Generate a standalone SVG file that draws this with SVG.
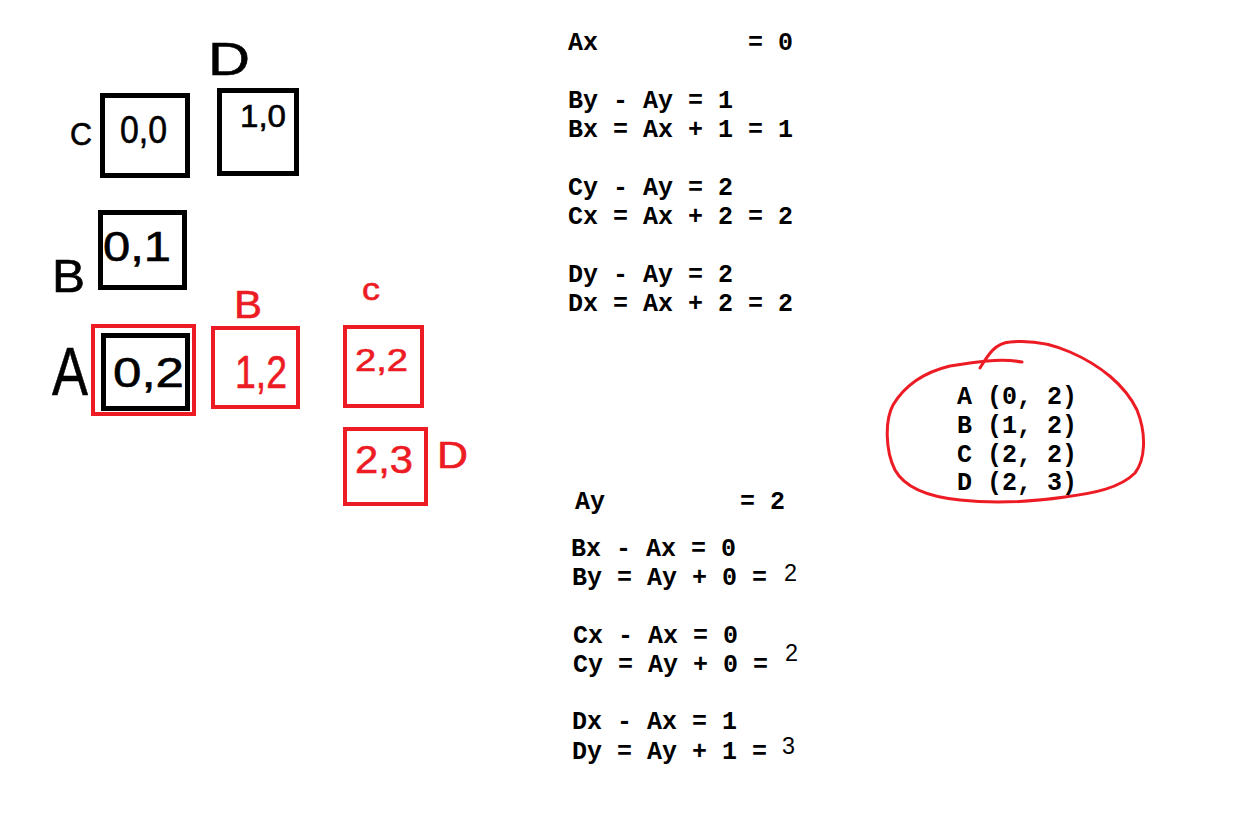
<svg xmlns="http://www.w3.org/2000/svg" width="1238" height="816" viewBox="0 0 1238 816">
<style>
.bg{fill:#fff}
.kbox{fill:none;stroke:#000;stroke-width:5}
.rbox{fill:none;stroke:#ED1C24;stroke-width:4}
.hk{font-family:"Liberation Sans","DejaVu Sans",sans-serif;fill:#000;stroke:#000;stroke-width:0.6}
.hr{font-family:"Liberation Sans","DejaVu Sans",sans-serif;fill:#ED1C24;stroke:#ED1C24;stroke-width:0.6}
.mono{font-family:"Liberation Mono","Courier New",monospace;font-weight:bold;font-size:25px;fill:#000}
.loop{fill:none;stroke:#ED1C24;stroke-width:3;stroke-linecap:round;stroke-linejoin:round}
</style>
<rect class="bg" x="0" y="0" width="1238" height="816"/>

<g id="connectors"></g>

<!-- black grid -->
<g id="node-00">
  <rect class="kbox" x="102.5" y="95.5" width="85" height="80"/>
  <text class="hk" x="120" y="143" font-size="39" textLength="47" lengthAdjust="spacingAndGlyphs">0,0</text>
</g>
<g id="node-10">
  <rect class="kbox" x="219.5" y="90.5" width="77" height="83"/>
  <text class="hk" x="240" y="127" font-size="31" textLength="46" lengthAdjust="spacingAndGlyphs">1,0</text>
</g>
<g id="node-01">
  <rect class="kbox" x="100.5" y="212.5" width="84" height="75"/>
  <text class="hk" x="103" y="261" font-size="42" textLength="68" lengthAdjust="spacingAndGlyphs">0,1</text>
</g>
<g id="node-02">
  <rect class="rbox" x="93" y="326" width="101" height="88"/>
  <rect class="kbox" x="103.5" y="335.5" width="84" height="73"/>
  <text class="hk" x="113" y="387" font-size="42" textLength="71" lengthAdjust="spacingAndGlyphs">0,2</text>
</g>

<!-- red grid -->
<g id="node-12">
  <rect class="rbox" x="213" y="328" width="85" height="79"/>
  <text class="hr" x="235" y="388" font-size="46" textLength="52" lengthAdjust="spacingAndGlyphs">1,2</text>
</g>
<g id="node-22">
  <rect class="rbox" x="345" y="327" width="77" height="79"/>
  <text class="hr" x="355" y="371" font-size="31" textLength="53" lengthAdjust="spacingAndGlyphs">2,2</text>
</g>
<g id="node-23">
  <rect class="rbox" x="345" y="429" width="81" height="75"/>
  <text class="hr" x="355" y="473" font-size="39" textLength="58" lengthAdjust="spacingAndGlyphs">2,3</text>
</g>

<!-- hand letters -->
<g id="labels">
  <text class="hk" x="208" y="75" font-size="46" textLength="42" lengthAdjust="spacingAndGlyphs">D</text>
  <text class="hk" x="70" y="145" font-size="32" textLength="22" lengthAdjust="spacingAndGlyphs">C</text>
  <text class="hk" x="52" y="292" font-size="47" textLength="33" lengthAdjust="spacingAndGlyphs">B</text>
  <text class="hk" x="52" y="395" font-size="68" textLength="36" lengthAdjust="spacingAndGlyphs">A</text>
  <text class="hr" x="234" y="318" font-size="39" textLength="28" lengthAdjust="spacingAndGlyphs">B</text>
  <text class="hr" x="362" y="300" font-size="32" textLength="18" lengthAdjust="spacingAndGlyphs">c</text>
  <text class="hr" x="437" y="468" font-size="36" textLength="31" lengthAdjust="spacingAndGlyphs">D</text>
</g>

<!-- equations block 1 -->
<g id="equations-x">
  <text class="mono" x="568" y="50">Ax</text>
  <text class="mono" x="748" y="50">= 0</text>
  <text class="mono" x="568" y="108">By - Ay = 1</text>
  <text class="mono" x="568" y="137">Bx = Ax + 1 = 1</text>
  <text class="mono" x="568" y="195">Cy - Ay = 2</text>
  <text class="mono" x="568" y="224">Cx = Ax + 2 = 2</text>
  <text class="mono" x="568" y="282">Dy - Ay = 2</text>
  <text class="mono" x="568" y="311">Dx = Ax + 2 = 2</text>
</g>

<!-- equations block 2 -->
<g id="equations-y">
  <text class="mono" x="575" y="509">Ay</text>
  <text class="mono" x="740" y="509">= 2</text>
  <text class="mono" x="571" y="556">Bx - Ax = 0</text>
  <text class="mono" x="572" y="585">By = Ay + 0 =</text>
  <text x="784" y="581" font-family="Liberation Sans, Arial, sans-serif" font-size="24" fill="#000" textLength="13" lengthAdjust="spacingAndGlyphs">2</text>
  <text class="mono" x="573" y="643">Cx - Ax = 0</text>
  <text class="mono" x="573" y="672">Cy = Ay + 0 =</text>
  <text x="785" y="661" font-family="Liberation Sans, Arial, sans-serif" font-size="24" fill="#000" textLength="13" lengthAdjust="spacingAndGlyphs">2</text>
  <text class="mono" x="572" y="729">Dx - Ax = 1</text>
  <text class="mono" x="572" y="759">Dy = Ay + 1 =</text>
  <text x="782" y="754" font-family="Liberation Sans, Arial, sans-serif" font-size="24" fill="#000" textLength="13" lengthAdjust="spacingAndGlyphs">3</text>
</g>

<!-- result list -->
<g id="result">
  <path class="loop" d="M 980,368 C 988,355 995,343 1010,342 C 1030,340 1050,343 1070,352 C 1100,365 1125,385 1137,410 C 1147,435 1145,460 1135,473 C 1120,488 1095,493 1065,497 C 1030,502 995,504 960,500 C 930,497 905,488 895,470 C 885,450 885,420 893,405 C 905,385 925,372 950,366 C 975,362 1000,358 1022,362"/>
  <text class="mono" x="957" y="404">A (0, 2)</text>
  <text class="mono" x="957" y="433">B (1, 2)</text>
  <text class="mono" x="957" y="462">C (2, 2)</text>
  <text class="mono" x="957" y="490">D (2, 3)</text>
</g>
</svg>
